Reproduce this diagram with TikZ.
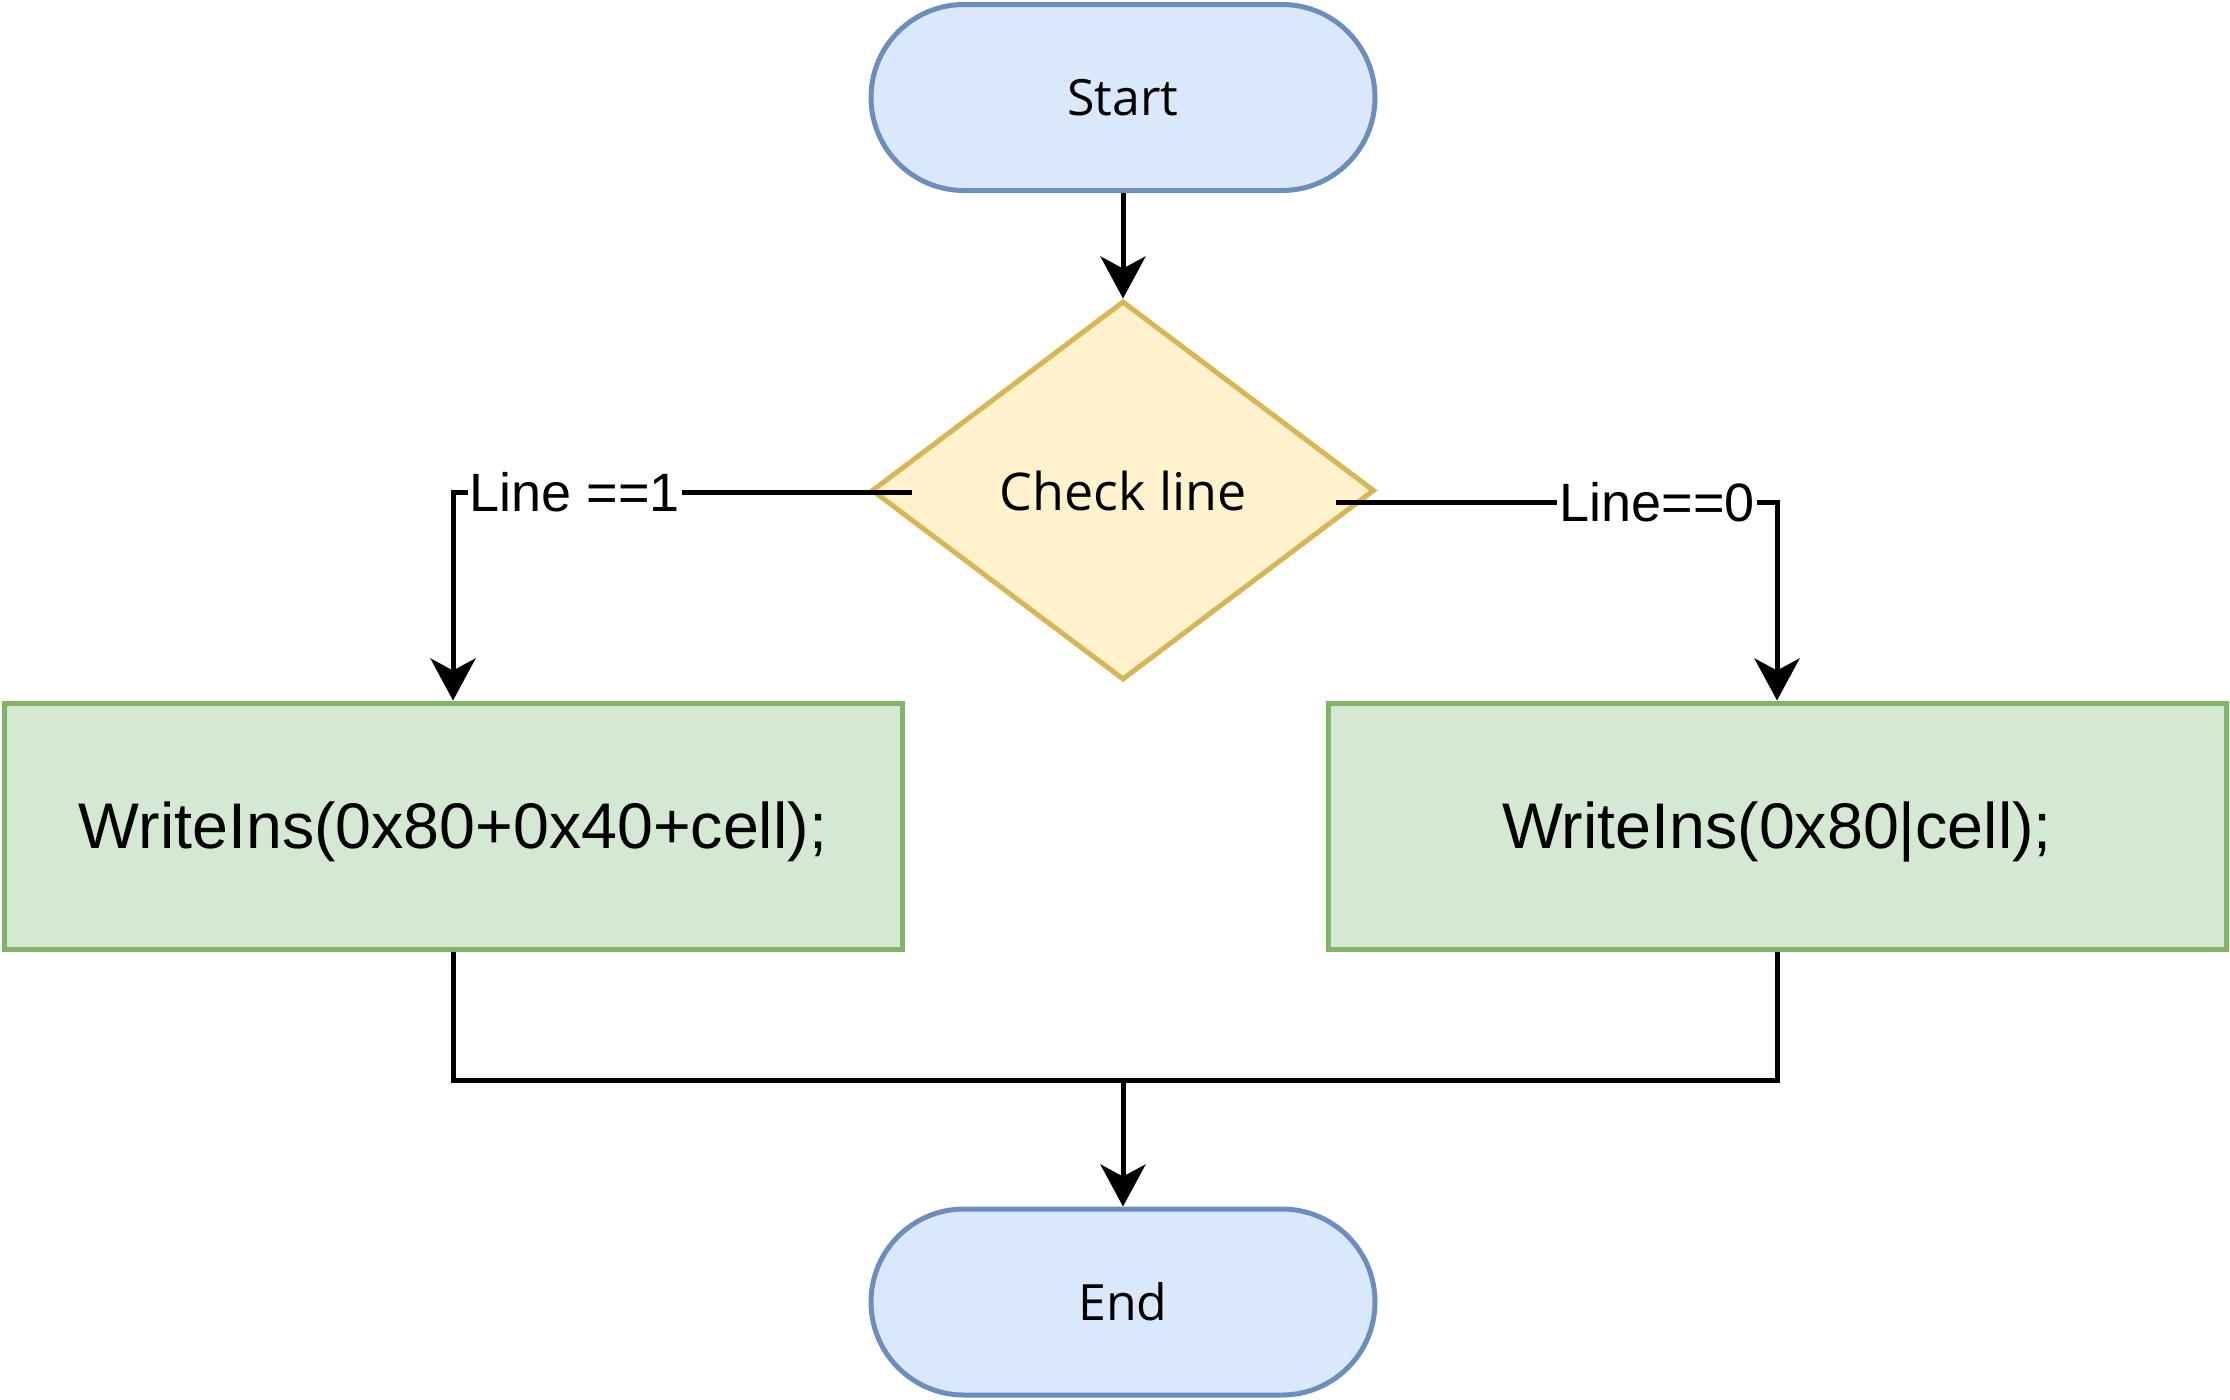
\documentclass[tikz,border=0pt]{standalone}
\usepackage{fontspec}
\setmainfont{Liberation Sans}
\newfontfamily\uifont{Open Sans}
\usetikzlibrary{shapes.geometric,arrows.meta,calc}
\definecolor{bluefill}{HTML}{DAE8FC}
\definecolor{bluestroke}{HTML}{6C8EBF}
\definecolor{yellowfill}{HTML}{FFF2CC}
\definecolor{yellowstroke}{HTML}{D6B656}
\definecolor{greenfill}{HTML}{D5E8D4}
\definecolor{greenstroke}{HTML}{82B366}
\begin{document}
\begin{tikzpicture}[x=1pt,y=-1pt,
  term/.style={rectangle, rounded corners=93pt, draw=bluestroke, fill=bluefill, line width=5pt,
    minimum width=504pt, minimum height=186pt, inner sep=0pt,
    font=\uifont\fontsize{50}{60}\selectfont},
  decision/.style={diamond, draw=yellowstroke, fill=yellowfill, line width=5pt,
    minimum width=503pt, minimum height=379pt, inner sep=0pt,
    font=\uifont\fontsize{52}{62}\selectfont},
  process/.style={rectangle, draw=greenstroke, fill=greenfill, line width=5pt,
    minimum width=898pt, minimum height=246pt, inner sep=0pt,
    text height=46pt, text depth=2pt,
    font=\fontsize{64.5}{76}\selectfont},
  conn/.style={line width=5pt, -{Stealth[length=42pt, width=45pt, inset=12pt]}},
  plain/.style={line width=5pt},
  lbl/.style={fill=white, inner xsep=2pt, inner ysep=0pt, font=\fontsize{54}{64}\selectfont}
]
\useasboundingbox (0,0) rectangle (2230,1400);

\node[term] (start) at (1123,97.5) {Start};
\node[decision] (chk) at (1123,490.5) {Check line};
\node[process] (lbox) at (453,826) {WriteIns(0x80+0x40+cell);};
\node[process] (rbox) at (1777,826) {WriteIns(0x80|cell);};
\node[term] (end) at (1123,1302) {End};

\draw[conn] (start.south) -- (chk.north);

\coordinate (dl) at ($(chk.west)+(43,1.5)$);
\coordinate (dr) at ($(chk.east)+(-41,11.5)$);
\draw[conn] (dl) -| (lbox.north);
\draw[conn] (dr) -| (rbox.north);
\node[lbl] (l1) at (575,492) {Line ==1};
\node[lbl] (l0) at (1657,502) {Line==0};

\coordinate (mid) at (1123,1080);
\draw[plain] (lbox.south) |- (mid) -| (rbox.south);
\draw[conn] (mid) -- (end.north);
\end{tikzpicture}
\end{document}
